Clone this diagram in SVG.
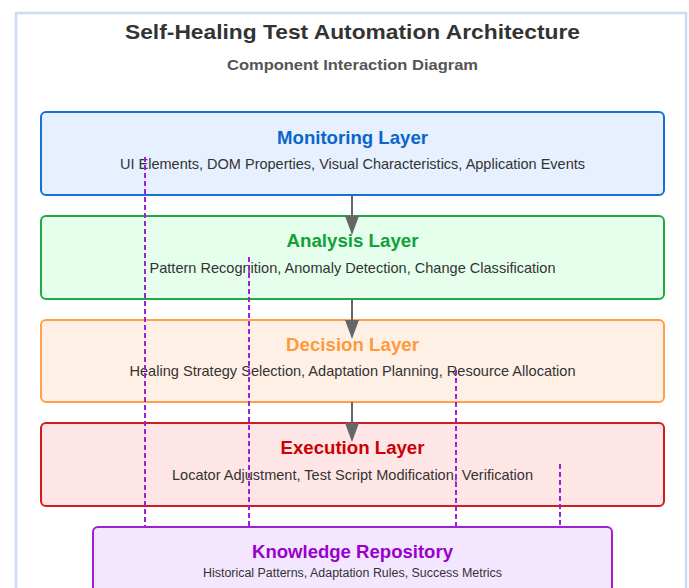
<svg xmlns="http://www.w3.org/2000/svg" width="689" height="588" viewBox="0 0 689 588">
<defs>
<style>
text{font-family:"Liberation Sans",Arial,sans-serif;text-anchor:middle}
.layer{stroke-width:2}
.t{font-size:18.5px;font-weight:bold}
.d{font-size:14.5px;fill:#333}
.flow{stroke:#666;stroke-width:2;fill:none;marker-end:url(#ah)}
.kb{stroke:#a020e0;stroke-width:2;stroke-dasharray:5,3;fill:none}
</style>
<marker id="ah" viewBox="0 0 19 14" refX="0" refY="7" markerWidth="19" markerHeight="14" markerUnits="userSpaceOnUse" orient="auto">
<path d="M0,0 L19,7 L0,14 Z" fill="#666"/>
</marker>
</defs>
<rect width="689" height="588" fill="#fff"/>
<rect x="16" y="13" width="670" height="600" fill="#fff" stroke="#cddcf5" stroke-width="2.5"/>
<g id="header">
<text x="352.5" y="39" textLength="455" lengthAdjust="spacingAndGlyphs" style="font-size:21px;font-weight:bold;fill:#333">Self-Healing Test Automation Architecture</text>
<text x="352.5" y="70" textLength="251" lengthAdjust="spacingAndGlyphs" style="font-size:15px;font-weight:bold;fill:#555">Component Interaction Diagram</text>
</g>
<g id="monitoring">
<rect class="layer" x="41" y="112" width="623" height="83" rx="5" fill="#e6f0ff" stroke="#1a6fd6"/>
<text class="t" x="352.5" y="144" textLength="151" lengthAdjust="spacingAndGlyphs" fill="#0a66cc">Monitoring Layer</text>
<text class="d" x="352.5" y="169" textLength="465" lengthAdjust="spacingAndGlyphs">UI Elements, DOM Properties, Visual Characteristics, Application Events</text>
</g>
<g id="analysis">
<rect class="layer" x="41" y="216" width="623" height="83" rx="5" fill="#e6ffec" stroke="#22a845"/>
<text class="t" x="352.5" y="247" textLength="132" lengthAdjust="spacingAndGlyphs" fill="#11a03a">Analysis Layer</text>
<text class="d" x="352.5" y="273" textLength="406" lengthAdjust="spacingAndGlyphs">Pattern Recognition, Anomaly Detection, Change Classification</text>
</g>
<g id="decision">
<rect class="layer" x="41" y="320" width="623" height="82" rx="5" fill="#fff0e6" stroke="#ffa04d"/>
<text class="t" x="352.5" y="351" textLength="133" lengthAdjust="spacingAndGlyphs" fill="#ff9a3c">Decision Layer</text>
<text class="d" x="352.5" y="376" textLength="446" lengthAdjust="spacingAndGlyphs">Healing Strategy Selection, Adaptation Planning, Resource Allocation</text>
</g>
<g id="execution">
<rect class="layer" x="41" y="423" width="623" height="83" rx="5" fill="#ffe6e6" stroke="#d41a1a"/>
<text class="t" x="352.5" y="454" textLength="144" lengthAdjust="spacingAndGlyphs" fill="#cc0000">Execution Layer</text>
<text class="d" x="352.5" y="480" textLength="361" lengthAdjust="spacingAndGlyphs">Locator Adjustment, Test Script Modification, Verification</text>
</g>
<g id="knowledge">
<rect class="layer" x="93" y="527" width="519" height="75" rx="5" fill="#f3e6ff" stroke="#a020d0"/>
<text class="t" x="352.5" y="558" textLength="201" lengthAdjust="spacingAndGlyphs" fill="#9900cc">Knowledge Repository</text>
<text x="352.5" y="577" textLength="299" lengthAdjust="spacingAndGlyphs" style="font-size:12px;fill:#333">Historical Patterns, Adaptation Rules, Success Metrics</text>
</g>
<g id="connectors">
<line class="flow" x1="352" y1="195" x2="352" y2="216"/>
<line class="flow" x1="352" y1="299" x2="352" y2="320"/>
<line class="flow" x1="352" y1="402" x2="352" y2="423"/>
<line class="kb" x1="145" y1="157" x2="145" y2="527"/>
<line class="kb" x1="249" y1="257" x2="249" y2="527"/>
<line class="kb" x1="456" y1="370" x2="456" y2="527"/>
<line class="kb" x1="560" y1="464" x2="560" y2="527"/>
</g>
</svg>
